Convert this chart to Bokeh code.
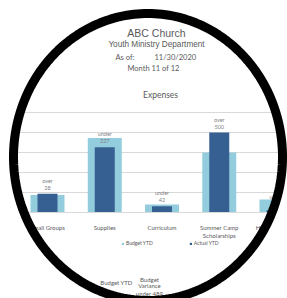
import numpy as np
from bokeh.plotting import figure
from bokeh.models import Range1d, FixedTicker, Label, PolyAnnotation, ColumnDataSource, LinearAxis
from bokeh.core.properties import value
from bokeh.embed import file_html
from bokeh.resources import INLINE

# ---------------- data ----------------
categories = ["Small Groups", "Supplies", "Curriculum", "Summer Camp\nScholarships", "High School\nRetreat"]
budget_ytd = [440, 1860, 200, 1500, 325]
actual_ytd = [468, 1633, 158, 2000, 55]
grid_ticks = [500, 1000, 1500, 2000, 2500]

# ---------------- styling ----------------
LIGHT = "#93CDDD"
DARK = "#376092"
GRID = "#D9D9D9"
TXT = "#595959"
CAL = "Lato"
ARIAL = "Liberation Sans"

W, H = 287, 298
# picture-pixel geometry
PAGE_L, PAGE_T = 0, 0
PAGE_R, PAGE_B = PAGE_L + W, PAGE_T + H
BASE_PX = 212
CAT0_PX, CAT_STEP_PX = 47, 57.25
VAL_PER_PX = 25.0


def px_x(X):
    return (X - CAT0_PX) / CAT_STEP_PX


def px_y(Y):
    return (BASE_PX - Y) * VAL_PER_PX


p = figure(width=W, height=H,
           x_range=Range1d(px_x(PAGE_L), px_x(PAGE_R)),
           y_range=Range1d(px_y(PAGE_B), px_y(PAGE_T)),
           min_border=0, x_axis_location=None, y_axis_location=None,
           output_backend="svg", toolbar_location=None)
p.outline_line_color = None
p.background_fill_color = "white"
p.border_fill_color = "white"

idx = list(range(len(categories)))
src = ColumnDataSource(dict(x=idx, budget=budget_ytd, actual=actual_ytd))

p.vbar(x="x", top="budget", bottom=0, width=34 / CAT_STEP_PX, source=src, fill_color=LIGHT,
       line_color=None, legend_label="Budget YTD")
p.vbar(x="x", top="actual", bottom=0, width=20 / CAT_STEP_PX, source=src, fill_color=DARK,
       line_color=None, legend_label="Actual YTD")

# variance labels
words = ["over" if a > b else "under" for a, b in zip(actual_ytd, budget_ytd)]
amounts = [str(abs(a - b)) for a, b in zip(actual_ytd, budget_ytd)]
lsrc = ColumnDataSource(dict(x=idx, y=actual_ytd, w=words, n=amounts))
p.text(x="x", y="y", text="w", source=lsrc, y_offset=-13, text_align="center",
       text_baseline="middle", text_font=value(CAL), text_font_size="5.5px", text_color="#7F7F7F")
p.text(x="x", y="y", text="n", source=lsrc, y_offset=-6, text_align="center",
       text_baseline="middle", text_font=value(CAL), text_font_size="5.5px", text_color="#7F7F7F")

# grid
p.xgrid.visible = False
p.ygrid.ticker = FixedTicker(ticks=grid_ticks)
p.ygrid.grid_line_color = GRID

# category axis, fixed on the zero line
xax = LinearAxis(ticker=FixedTicker(ticks=idx), fixed_location=0)
xax.major_label_overrides = {i: c for i, c in zip(idx, categories)}
xax.axis_line_color = GRID
xax.major_tick_line_color = None
xax.minor_tick_line_color = None
xax.major_label_standoff = 5
xax.major_label_text_font = CAL
xax.major_label_text_font_size = "6px"
xax.major_label_text_color = TXT
p.add_layout(xax, "below")

# legend
lg = p.legend[0]
lg.orientation = "horizontal"
lg.location = (121 - PAGE_L, PAGE_B - 246)
lg.glyph_width = 3
lg.glyph_height = 3
lg.label_height = 5
lg.label_width = 10
lg.label_standoff = 2
lg.spacing = 36
lg.padding = 0
lg.margin = 0
lg.border_line_color = None
lg.background_fill_alpha = 0
lg.label_text_font = CAL
lg.label_text_font_size = "5px"
lg.label_text_color = TXT


# header texts
def lab(X, Y, t, size, font=CAL, color=TXT, align="center"):
    p.add_layout(Label(x=px_x(X), y=px_y(Y), text=t, text_align=align, text_baseline="middle",
                       text_font=font, text_font_size=size, text_color=color))


lab(156, 32, "ABC Church", "10.5px", font=ARIAL)
lab(156, 44, "Youth Ministry Department", "8.2px", font=ARIAL)
lab(115, 57, "As of:", "7.5px", align="left")
lab(154, 57, "11/30/2020", "7.5px", align="left")
lab(153, 68, "Month 11 of 12", "7.5px")
lab(160, 94, "Expenses", "8.5px")
lab(116, 282, "Budget YTD", "6px")
lab(149, 279, "Budget", "6px")
lab(149, 285, "Variance", "6px")
lab(149, 293, "under 489", "6px")

# circular frame (mask + ring)
cx, cy, rx, ry = 147.5, 156.5, 134.5, 143.5
t = np.linspace(-np.pi / 2, 3 * np.pi / 2, 241)
ex = cx + rx * np.cos(t)
ey = cy + ry * np.sin(t)
rect_x = [cx, -10, -10, 300, 300, cx]
rect_y = [-10, -10, 310, 310, -10, -10]
mx = list(ex) + rect_x
my = list(ey) + rect_y
p.add_layout(PolyAnnotation(xs=[px_x(v) for v in mx], ys=[px_y(v) for v in my],
                            fill_color="white", fill_alpha=1, line_alpha=0))
p.add_layout(PolyAnnotation(xs=[px_x(v) for v in ex], ys=[px_y(v) for v in ey],
                            fill_alpha=0, line_color="black", line_alpha=1, line_width=9))

open("out.html", "w").write(file_html(p, INLINE))
